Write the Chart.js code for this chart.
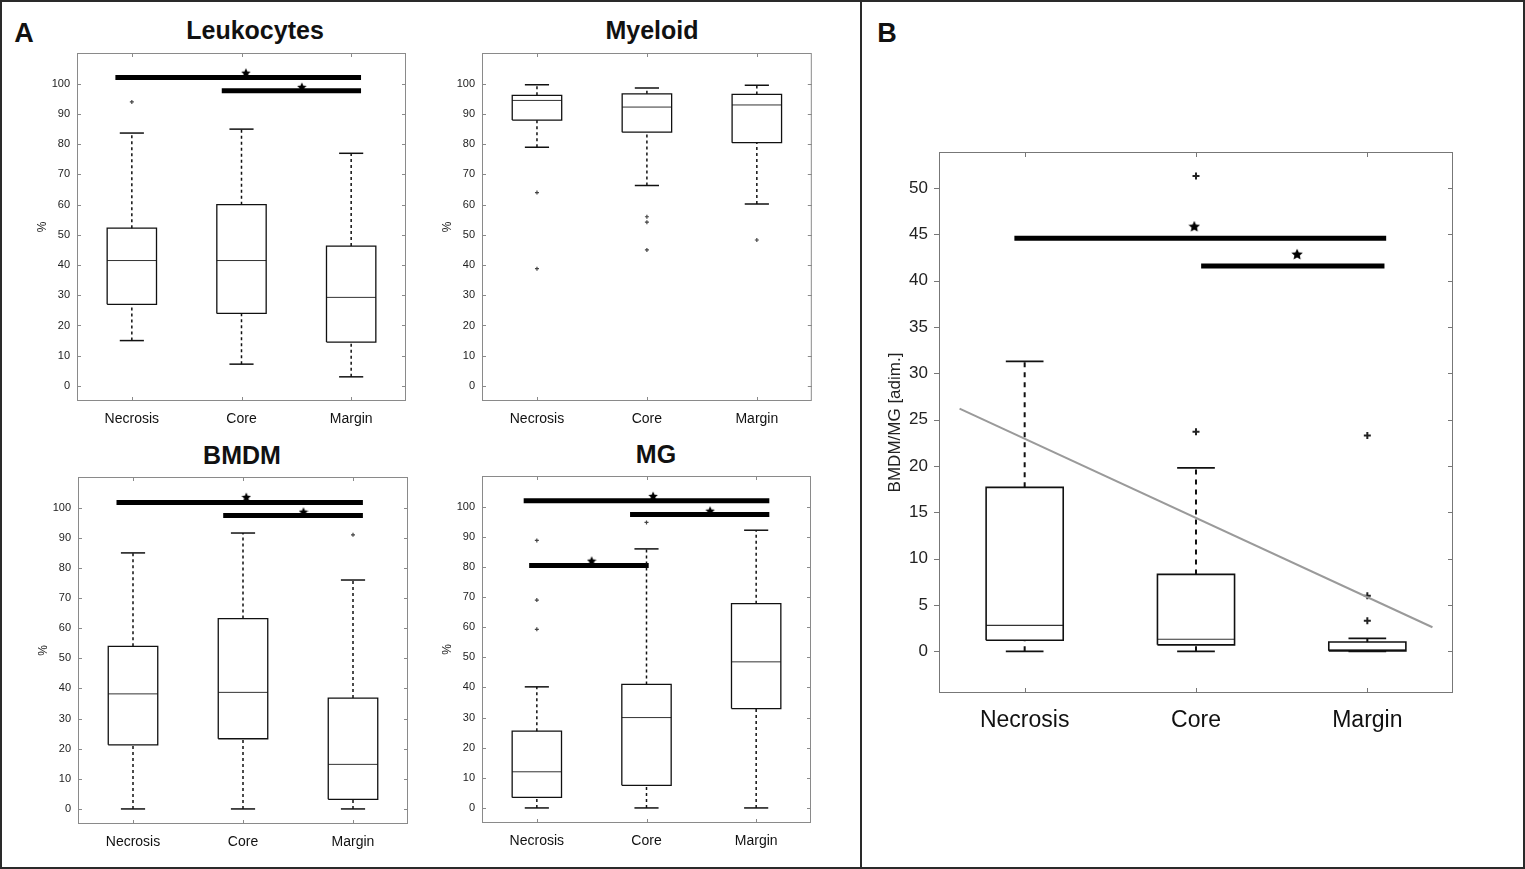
<!DOCTYPE html>
<html>
<head>
<meta charset="utf-8">
<script src="https://cdn.jsdelivr.net/npm/chart.js@4.4.1/dist/chart.umd.min.js"></script>
<style>
body { margin: 0; background: #fff; width: 1525px; height: 869px; position: relative; overflow: hidden; font-family: "Liberation Sans", Arial, sans-serif; }
.frame { position: absolute; border: 2px solid #2a2a2a; box-sizing: border-box; }
.holder { position: absolute; }
.title { position: absolute; font-weight: bold; font-size: 25px; line-height: 1; transform: translate(-50%, -50%); color: #111; white-space: nowrap; }
.letter { position: absolute; font-weight: bold; font-size: 27px; line-height: 1; transform: translate(-50%, -50%); color: #111; }
</style>
</head>
<body>
<div class="frame" style="left:0;top:0;width:862px;height:869px"></div>
<div class="frame" style="left:860px;top:0;width:665px;height:869px"></div>
<div class="letter" style="left:24px;top:33px">A</div>
<div class="letter" style="left:887px;top:33px">B</div>
<div class="title" style="left:255px;top:30px">Leukocytes</div>
<div class="title" style="left:652px;top:30px">Myeloid</div>
<div class="title" style="left:242px;top:455px">BMDM</div>
<div class="title" style="left:656px;top:454px">MG</div>

<div class="holder" id="h1"><canvas id="leuk"></canvas></div>
<div class="holder" id="h2"><canvas id="myel"></canvas></div>
<div class="holder" id="h3"><canvas id="bmdm"></canvas></div>
<div class="holder" id="h4"><canvas id="mg"></canvas></div>
<div class="holder" id="h5"><canvas id="ratio"></canvas></div>

<script>
const categories = ['Necrosis', 'Core', 'Margin'];
const percentTicks = [0, 10, 20, 30, 40, 50, 60, 70, 80, 90, 100];
const ratioTicks = [0, 5, 10, 15, 20, 25, 30, 35, 40, 45, 50];

// Leukocytes
const leukLow = [15, 7.2, 3];
const leukQ1 = [27, 24, 14.5];
const leukMedian = [41.5, 41.5, 29.3];
const leukQ3 = [52.2, 60, 46.3];
const leukHigh = [83.7, 85, 77];
const leukOutliers = [[94], [], []];
const leukSigFrom = [0.85, 1.82];
const leukSigTo = [3.09, 3.09];
const leukSigY = [102.1, 97.7];
const leukStarX = [2.04, 2.55];
const leukStarY = [103.7, 99];

// Myeloid
const myelLow = [79, 66.3, 60.2];
const myelQ1 = [88, 84, 80.5];
const myelMedian = [94.5, 92.3, 93];
const myelQ3 = [96.2, 96.7, 96.5];
const myelHigh = [99.7, 98.6, 99.5];
const myelOutliers = [[64, 38.8], [56, 54.2, 45], [48.3]];

// BMDM
const bmdmLow = [0, 0, 0];
const bmdmQ1 = [21.3, 23.3, 3.2];
const bmdmMedian = [38.2, 38.7, 14.8];
const bmdmQ3 = [54, 63.2, 36.8];
const bmdmHigh = [85, 91.6, 76];
const bmdmOutliers = [[], [], [91]];
const bmdmSigFrom = [0.85, 1.82];
const bmdmSigTo = [3.09, 3.09];
const bmdmSigY = [101.7, 97.4];
const bmdmStarX = [2.03, 2.55];
const bmdmStarY = [103.6, 98.7];

// MG
const mgLow = [0, 0, 0];
const mgQ1 = [3.5, 7.5, 33];
const mgMedian = [12, 30, 48.5];
const mgQ3 = [25.5, 41, 67.8];
const mgHigh = [40.2, 86, 92.2];
const mgOutliers = [[59.3, 69, 88.8], [94.8], []];
const mgSigFrom = [0.88, 1.85, 0.93];
const mgSigTo = [3.12, 3.12, 2.02];
const mgSigY = [102, 97.4, 80.5];
const mgStarX = [2.06, 2.58, 1.5];
const mgStarY = [103.6, 98.7, 82.1];

// BMDM/MG ratio
const ratioLow = [0, 0, 0];
const ratioQ1 = [1.2, 0.7, 0.05];
const ratioMedian = [2.8, 1.3, 0.15];
const ratioQ3 = [17.7, 8.3, 1.0];
const ratioHigh = [31.3, 19.8, 1.4];
const ratioOutliers = [[], [23.7, 51.3], [3.3, 6, 23.3]];
const ratioSigFrom = [0.94, 2.03];
const ratioSigTo = [3.11, 3.1];
const ratioSigY = [44.6, 41.6];
const ratioStarX = [1.99, 2.59];
const ratioStarY = [45.9, 42.9];
const trendX = [0.62, 3.38];
const trendY = [26.2, 2.6];

function makeStar(size) {
    const c = document.createElement('canvas');
    c.width = c.height = size;
    const g = c.getContext('2d');
    g.fillStyle = '#000';
    g.beginPath();
    for (let i = 0; i < 10; i++) {
        const r = i % 2 ? size * 0.24 : size / 2;
        const a = -Math.PI / 2 + i * Math.PI / 5;
        g.lineTo(size / 2 + r * Math.cos(a), size / 2 + r * Math.sin(a) + size * 0.06);
    }
    g.closePath();
    g.fill();
    return c;
}

function seg(points, color, width, dash) {
    return {
        type: 'scatter', data: points, showLine: true, pointRadius: 0,
        borderColor: color, borderWidth: width, borderDash: dash || [],
        fill: false, borderCapStyle: 'butt'
    };
}

function boxDatasets(low, q1, med, q3, high, outliers, st) {
    const out = [];
    categories.forEach((c, i) => {
        const x = i + 1, h = st.boxW / 2, k = st.capW / 2;
        out.push(seg([{x: x, y: q3[i]}, {x: x, y: high[i]}], '#111', st.dashW, st.dash));
        out.push(seg([{x: x, y: low[i]}, {x: x, y: q1[i]}], '#111', st.dashW, st.dash));
        out.push(seg([{x: x - k, y: high[i]}, {x: x + k, y: high[i]}], '#111', st.capLine));
        out.push(seg([{x: x - k, y: low[i]}, {x: x + k, y: low[i]}], '#111', st.capLine));
        out.push(seg([{x: x - h, y: q1[i]}, {x: x + h, y: q1[i]}, {x: x + h, y: q3[i]},
                      {x: x - h, y: q3[i]}, {x: x - h, y: q1[i]}], '#111', st.line));
        out.push(seg([{x: x - h, y: med[i]}, {x: x + h, y: med[i]}], st.medColor, st.medW));
        if (outliers[i].length) {
            out.push({
                type: 'scatter', data: outliers[i].map(v => ({x: x, y: v})),
                pointStyle: 'cross', pointRadius: st.outR, pointBorderWidth: st.outW,
                pointBorderColor: st.outColor, showLine: false
            });
        }
    });
    return out;
}

function sigDatasets(from, to, y, starX, starY, width, star) {
    const out = [];
    from.forEach((f, i) => {
        out.push(seg([{x: f, y: y[i]}, {x: to[i], y: y[i]}], '#000', width));
    });
    out.push({
        type: 'scatter', data: starX.map((v, i) => ({x: v, y: starY[i]})),
        pointStyle: star, pointRadius: 5, showLine: false
    });
    return out;
}

const frameTicks = {
    id: 'frameTicks',
    afterDatasetsDraw(chart, args, opts) {
        const {ctx, chartArea: a, scales: {x, y}} = chart;
        const len = opts.length;
        ctx.save();
        ctx.strokeStyle = opts.color;
        ctx.lineWidth = 1;
        ctx.strokeRect(a.left + 0.5, a.top + 0.5, a.right - a.left - 1, a.bottom - a.top - 1);
        ctx.beginPath();
        y.ticks.forEach(t => {
            const py = Math.round(y.getPixelForValue(t.value)) + 0.5;
            if (opts.leftOut) { ctx.moveTo(a.left - len, py); ctx.lineTo(a.left, py); }
            else { ctx.moveTo(a.left, py); ctx.lineTo(a.left + len, py); }
            ctx.moveTo(a.right - len, py); ctx.lineTo(a.right, py);
        });
        x.ticks.forEach(t => {
            const px = Math.round(x.getPixelForValue(t.value)) + 0.5;
            ctx.moveTo(px, a.top); ctx.lineTo(px, a.top + len);
            ctx.moveTo(px, a.bottom - len); ctx.lineTo(px, a.bottom);
        });
        ctx.stroke();
        ctx.restore();
    }
};

function drawPanel(holderId, canvasId, plot, cfg, datasets) {
    const left = plot[0] - cfg.yAxisW, top = plot[1] - cfg.padTop;
    const w = plot[2] - left + cfg.padRight, h = plot[3] + cfg.xAxisH - top;
    const holder = document.getElementById(holderId);
    holder.style.left = left + 'px';
    holder.style.top = top + 'px';
    holder.style.width = w + 'px';
    holder.style.height = h + 'px';
    const ctx = document.getElementById(canvasId).getContext('2d');
    new Chart(ctx, {
        type: 'scatter',
        data: { datasets: datasets },
        options: {
            responsive: true, maintainAspectRatio: false, animation: false,
            layout: { padding: { top: cfg.padTop, right: cfg.padRight, left: 0, bottom: 0 } },
            plugins: { legend: { display: false }, tooltip: { enabled: false }, frameTicks: cfg.frame },
            scales: {
                x: {
                    type: 'linear', min: 0.5, max: 3.5,
                    afterBuildTicks: s => { s.ticks = [1, 2, 3].map(v => ({value: v})); },
                    afterFit: s => { s.height = cfg.xAxisH; },
                    grid: { display: false, drawTicks: false }, border: { display: false },
                    ticks: { callback: v => categories[v - 1], padding: cfg.xPad, color: '#111', maxRotation: 0,
                             font: { family: 'Liberation Sans', size: cfg.xFont } }
                },
                y: {
                    min: cfg.yMin, max: cfg.yMax,
                    afterBuildTicks: s => { s.ticks = cfg.yTicks.map(v => ({value: v})); },
                    afterFit: s => { s.width = cfg.yAxisW; },
                    grid: { display: false, drawTicks: false }, border: { display: false },
                    ticks: { padding: cfg.yPad, color: '#222', font: { family: 'Liberation Sans', size: cfg.yFont } },
                    title: { display: true, text: cfg.yTitle, color: '#222', padding: { top: cfg.titlePad, bottom: 0 },
                             font: { family: 'Liberation Sans', size: cfg.titleFont } }
                }
            }
        },
        plugins: [frameTicks]
    });
}

const starA = makeStar(10);
const starB = makeStar(12);

const styleA = { boxW: 0.45, capW: 0.22, line: 1.3, capLine: 1.5, dash: [3, 3], dashW: 1.5,
                 medColor: '#333', medW: 1, outR: 2, outW: 1.2, outColor: '#444' };
const styleB = { boxW: 0.45, capW: 0.22, line: 1.6, capLine: 1.8, dash: [5, 5], dashW: 2,
                 medColor: '#333', medW: 1.2, outR: 3.5, outW: 2, outColor: '#222' };

const cfgA = { yAxisW: 57, xAxisH: 39, padTop: 25, padRight: 5, xPad: 10, yPad: 7, xFont: 14, yFont: 11,
               yMin: -5, yMax: 110.2, yTicks: percentTicks, yTitle: '%', titlePad: 15, titleFont: 12,
               frame: { color: '#8a8a8a', length: 4, leftOut: false } };
const cfgB = { yAxisW: 70, xAxisH: 45, padTop: 30, padRight: 5, xPad: 14, yPad: 11, xFont: 23, yFont: 17,
               yMin: -4.5, yMax: 53.9, yTicks: ratioTicks, yTitle: 'BMDM/MG [adim.]', titlePad: 16, titleFont: 17,
               frame: { color: '#777', length: 5, leftOut: true } };

drawPanel('h1', 'leuk', [77, 53, 407, 401], cfgA,
    boxDatasets(leukLow, leukQ1, leukMedian, leukQ3, leukHigh, leukOutliers, styleA)
        .concat(sigDatasets(leukSigFrom, leukSigTo, leukSigY, leukStarX, leukStarY, 5, starA)));

drawPanel('h2', 'myel', [482, 53, 812, 401], cfgA,
    boxDatasets(myelLow, myelQ1, myelMedian, myelQ3, myelHigh, myelOutliers, styleA));

drawPanel('h3', 'bmdm', [78, 477, 409, 824], cfgA,
    boxDatasets(bmdmLow, bmdmQ1, bmdmMedian, bmdmQ3, bmdmHigh, bmdmOutliers, styleA)
        .concat(sigDatasets(bmdmSigFrom, bmdmSigTo, bmdmSigY, bmdmStarX, bmdmStarY, 5, starA)));

drawPanel('h4', 'mg', [482, 476, 812, 823], cfgA,
    boxDatasets(mgLow, mgQ1, mgMedian, mgQ3, mgHigh, mgOutliers, styleA)
        .concat(sigDatasets(mgSigFrom, mgSigTo, mgSigY, mgStarX, mgStarY, 5, starA)));

const trend = seg(trendX.map((v, i) => ({x: v, y: trendY[i]})), '#9a9a9a', 2);
drawPanel('h5', 'ratio', [939, 152, 1454, 693], cfgB,
    [trend].concat(boxDatasets(ratioLow, ratioQ1, ratioMedian, ratioQ3, ratioHigh, ratioOutliers, styleB))
        .concat(sigDatasets(ratioSigFrom, ratioSigTo, ratioSigY, ratioStarX, ratioStarY, 5, starB)));
</script>
</body>
</html>
